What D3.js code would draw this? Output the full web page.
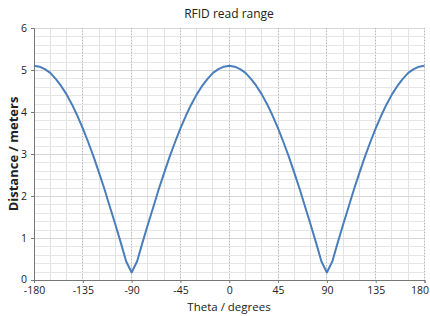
<!DOCTYPE html>
<html><head><meta charset="utf-8">
<script src="https://cdn.jsdelivr.net/npm/d3@7"></script>
<style>body{margin:0;background:#fff}svg{display:block}text{font-family:"Open Sans","Noto Sans",sans-serif;fill:#222}</style>
</head><body><svg id="c" width="430" height="316"></svg>
<script>
const theta = [-180,-175,-170,-165,-160,-155,-150,-145,-140,-135,-130,-125,-120,-115,-110,-105,-100,-95,-90,-85,-80,-75,-70,-65,-60,-55,-50,-45,-40,-35,-30,-25,-20,-15,-10,-5,0,5,10,15,20,25,30,35,40,45,50,55,60,65,70,75,80,85,90,95,100,105,110,115,120,125,130,135,140,145,150,155,160,165,170,175,180];
const distance = [5.10,5.08,5.02,4.93,4.79,4.62,4.42,4.18,3.91,3.61,3.28,2.93,2.55,2.16,1.74,1.32,0.89,0.44,0.18,0.44,0.89,1.32,1.74,2.16,2.55,2.93,3.28,3.61,3.91,4.18,4.42,4.62,4.79,4.93,5.02,5.08,5.10,5.08,5.02,4.93,4.79,4.62,4.42,4.18,3.91,3.61,3.28,2.93,2.55,2.16,1.74,1.32,0.89,0.44,0.18,0.44,0.89,1.32,1.74,2.16,2.55,2.93,3.28,3.61,3.91,4.18,4.42,4.62,4.79,4.93,5.02,5.08,5.10];
const xTicks = [-180,-135,-90,-45,0,45,90,135,180];
const yTicks = [0,1,2,3,4,5,6];
const title = "RFID read range";
const xTitle = "Theta / degrees";
const yTitle = "Distance / meters";

const svg = d3.select("#c");
const L=34, R=424.5, T=28, B=280;
const x = d3.scaleLinear().domain([-180,180]).range([L,R]);
const y = d3.scaleLinear().domain([0,6]).range([B,T]);

const g = svg.append("g");
g.selectAll(".vx").data(d3.range(-180,181,15)).join("line")
 .attr("x1",d=>x(d)).attr("x2",d=>x(d)).attr("y1",T).attr("y2",B)
 .attr("stroke","#e2e2e2").attr("stroke-width",1).attr("shape-rendering","crispEdges");
g.selectAll(".hy").data(d3.range(0,6.01,0.2)).join("line")
 .attr("x1",L).attr("x2",R).attr("y1",d=>Math.round(y(d))+0.5).attr("y2",d=>Math.round(y(d))+0.5)
 .attr("stroke",d=>Math.abs(d-Math.round(d))<1e-6?"#d6d6d6":"#e6e6e6").attr("stroke-width",1);
g.selectAll(".mx").data(xTicks.slice(1)).join("line")
 .attr("x1",d=>x(d)).attr("x2",d=>x(d)).attr("y1",T).attr("y2",B)
 .attr("stroke","#b8b8b8").attr("stroke-width",1).attr("stroke-dasharray","1,2").attr("shape-rendering","crispEdges");

const fmt = d=>String(d);
const xa = svg.append("g").attr("transform",`translate(0,${B})`)
 .call(d3.axisBottom(x).tickValues(xTicks).tickSize(3).tickFormat(fmt));
const ya = svg.append("g").attr("transform",`translate(${L},0)`)
 .call(d3.axisLeft(y).tickValues(yTicks).tickSize(3).tickFormat(fmt));
[xa,ya].forEach(a=>{a.select(".domain").attr("stroke","#777");a.selectAll(".tick line").attr("stroke","#777");
 a.selectAll("text").attr("font-size",10.5).attr("font-family","'Open Sans',sans-serif").attr("fill","#222");});
xa.selectAll("text").attr("y",7).attr("dy","0.71em");
xa.selectAll(".tick").filter(d=>d===180).select("text").attr("dx",-5);
ya.selectAll("text").attr("x",-7);
ya.selectAll(".tick").filter(d=>d===0).select("text").attr("dy","0.2em");

svg.append("path").datum(theta.map((t,i)=>[t,distance[i]]))
 .attr("fill","none").attr("stroke","#4a7ebb").attr("stroke-width",2).attr("stroke-linejoin","round")
 .attr("d",d3.line().x(d=>x(d[0])).y(d=>y(d[1])));

svg.append("text").attr("x",229).attr("y",18).attr("text-anchor","middle").attr("font-size",12).text(title);
svg.append("text").attr("x",229).attr("y",311).attr("text-anchor","middle").attr("font-size",11.5).text(xTitle);
svg.append("text").attr("transform","translate(18,154) rotate(-90)").attr("text-anchor","middle")
 .attr("font-size",13).attr("font-weight","bold").text(yTitle);
</script></body></html>
